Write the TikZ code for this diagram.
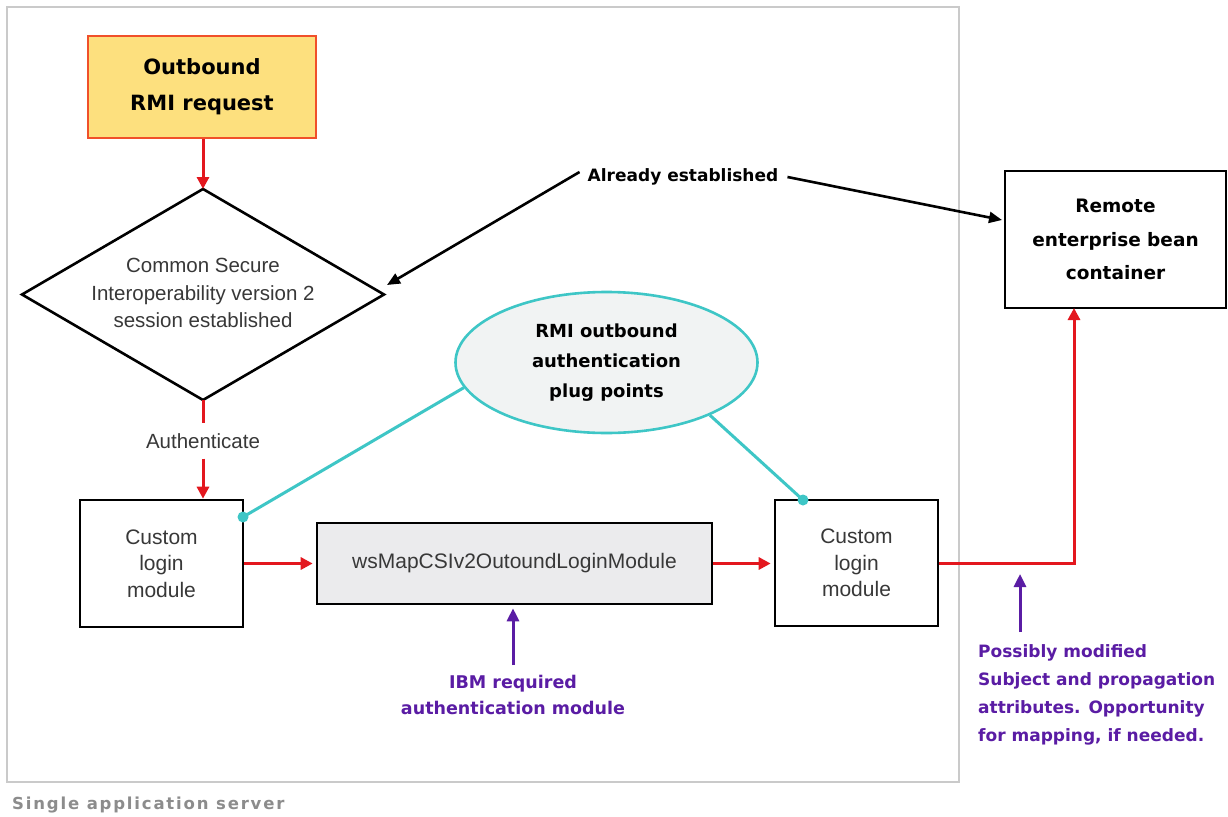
\documentclass[tikz,border=0pt]{standalone}
\usepackage{fontspec}
\setmainfont{Liberation Sans}
\newfontfamily\vb{DejaVu Sans}
\newfontfamily\vbsp{DejaVu Sans}[LetterSpace=11]
\usetikzlibrary{shapes.geometric,arrows.meta}
\definecolor{redl}{HTML}{E3171E}
\definecolor{cyanl}{HTML}{3EC6C6}
\definecolor{purp}{HTML}{5A1CA4}
\definecolor{yell}{HTML}{FDE07E}
\definecolor{oran}{HTML}{F0502A}
\definecolor{txtg}{HTML}{383838}
\definecolor{frameg}{HTML}{CACACA}
\definecolor{capg}{HTML}{8C8C8C}
\definecolor{ellf}{HTML}{F1F3F3}
\definecolor{boxf}{HTML}{EBEBED}
\tikzset{
  plain/.style={draw=black,line width=2.6pt,inner sep=0pt,align=center,text=txtg,font=\fontsize{21}{26.5}\selectfont},
  boldlab/.style={inner sep=0pt,align=center,font=\vb\bfseries\fontsize{17}{28}\selectfont},
  redarr/.style={draw=redl,line width=3pt,-{Triangle[length=12pt,width=12pt]}},
  redln/.style={draw=redl,line width=3pt},
  blkarr/.style={draw=black,line width=2.6pt,-{Triangle[length=13pt,width=11pt]}},
  purarr/.style={draw=purp,line width=3pt,-{Triangle[length=13pt,width=12pt]}},
  cyanln/.style={draw=cyanl,line width=3pt},
  cdot/.style={circle,fill=cyanl,inner sep=0pt,minimum size=11pt}
}
\begin{document}
\begin{tikzpicture}[x=1pt,y=-1pt]
\useasboundingbox[fill=white] (0,0) rectangle (1228,816);
% frame
\draw[frameg,line width=2.5pt] (7,7) rectangle (959,782);
\node[anchor=west,text=capg,font=\vbsp\bfseries\fontsize{16.5}{18}\selectfont,inner sep=0pt] (cap) at (12,805) {Single application server};

% diamond outline
\coordinate (dN) at (203,189);
\coordinate (dS) at (203,400);
\coordinate (dE) at (384,294.5);
\coordinate (dW) at (22,294.5);
\draw[black,line width=2.6pt,line join=miter] (dN) -- (dE) -- (dS) -- (dW) -- cycle;

% nodes
\node[draw=oran,fill=yell,line width=2.4pt,minimum width=228pt,minimum height=102pt,inner sep=0pt,align=center,font=\vb\bfseries\fontsize{21}{36}\selectfont] (out) at (202,87) {Outbound\\RMI request};
\node[inner sep=0pt,align=center,text=txtg,font=\fontsize{20.5}{27.5}\selectfont] (dia) at (203,293) {Common Secure\\Interoperability version 2\\session established};
\node[text=txtg,font=\fontsize{20.5}{24}\selectfont,inner sep=0pt,minimum height=35pt] (auth) at (203,441) {Authenticate};
\node[plain,minimum width=163pt,minimum height=127pt] (c1) at (161.5,563.5) {Custom\\login\\module};
\node[plain,fill=boxf,minimum width=395pt,minimum height=81pt] (ws) at (514.5,563.5) {wsMapCSIv2OutoundLoginModule};
\node[plain,minimum width=163pt,minimum height=126pt] (c2) at (856.5,563) {Custom\\login\\module};
\node[draw=black,line width=2.6pt,minimum width=221pt,minimum height=137pt,inner sep=0pt,align=center,font=\vb\bfseries\fontsize{18.5}{33.5}\selectfont] (rem) at (1115.5,239.5) {Remote\\enterprise bean\\container};
\node[ellipse,draw=cyanl,fill=ellf,line width=2.6pt,minimum width=302pt,minimum height=141pt,inner sep=0pt,align=center,font=\vb\bfseries\fontsize{18}{30}\selectfont] (ell) at (606.5,362.5) {RMI outbound\\authentication\\plug points};
\node[boldlab] (ae) at (683,177) {Already established};
\node[boldlab,text=purp,font=\vb\bfseries\fontsize{17.5}{26}\selectfont] (ibm) at (513,695) {IBM required\\authentication module};
\node[boldlab,text=purp,anchor=west,align=left] (pm) at (978,695) {Possibly modified\\Subject and propagation\\attributes. Opportunity\\for mapping, if needed.};

% coordinates
\coordinate (dtip) at (387,285);
\coordinate (rtip) at (1002,220);
\coordinate (rb) at (1074,308);
\coordinate (pa) at (1020,632);
\coordinate (pb) at (1020,574);
\coordinate (d1) at (243,517);
\coordinate (d2) at (803,500);

% connectors
\draw[redarr] (dN |- out.south) -- (dN);
\draw[redln] (dS) -- (auth.north);
\draw[redarr] (auth.south) -- (auth.south |- c1.north);
\draw[redarr,shorten >=3pt] (c1.east |- ws.west) -- (ws.west);
\draw[redarr,shorten >=3pt] (ws.east) -- (ws.east -| c2.west);
\draw[redarr] (c2.east) -| (rb);
\draw[blkarr] ([xshift=-8pt,yshift=5pt]ae.west) -- (dtip);
\draw[blkarr] ([xshift=9pt]ae.east) -- (rtip);
\draw[cyanln] (d1) -- (ell.190);
\draw[cyanln] (d2) -- (ell.333);
\node[cdot] at (d1) {};
\node[cdot] at (d2) {};
\draw[purarr,shorten >=3pt,shorten <=10pt] (ibm.north) -- (ibm.north |- ws.south);
\draw[purarr] (pa) -- (pb);
\end{tikzpicture}
\end{document}
